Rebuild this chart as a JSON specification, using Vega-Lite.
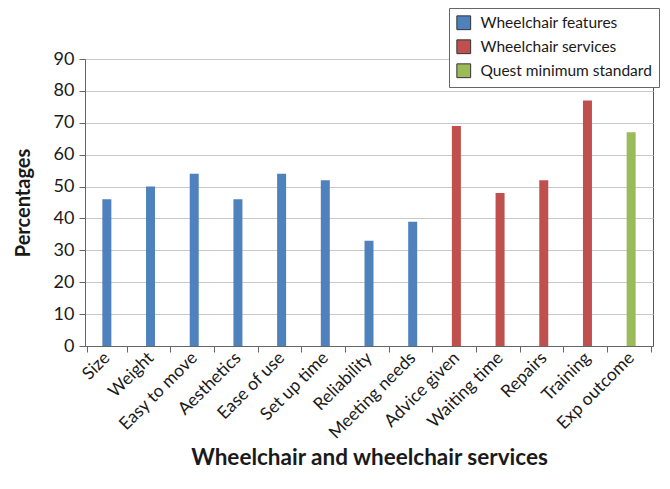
{
  "$schema": "https://vega.github.io/schema/vega-lite/v6.json",
  "width": 568,
  "height": 287,
  "autosize": "none",
  "padding": {"left": 85, "top": 59, "right": 17, "bottom": 143},
  "background": "white",
  "data": {
    "values": [
      {"item": "Size", "value": 46, "group": "Wheelchair features"},
      {"item": "Weight", "value": 50, "group": "Wheelchair features"},
      {"item": "Easy to move", "value": 54, "group": "Wheelchair features"},
      {"item": "Aesthetics", "value": 46, "group": "Wheelchair features"},
      {"item": "Ease of use", "value": 54, "group": "Wheelchair features"},
      {"item": "Set up time", "value": 52, "group": "Wheelchair features"},
      {"item": "Reliability", "value": 33, "group": "Wheelchair features"},
      {"item": "Meeting needs", "value": 39, "group": "Wheelchair features"},
      {"item": "Advice given", "value": 69, "group": "Wheelchair services"},
      {"item": "Waiting time", "value": 48, "group": "Wheelchair services"},
      {"item": "Repairs", "value": 52, "group": "Wheelchair services"},
      {"item": "Training", "value": 77, "group": "Wheelchair services"},
      {"item": "Exp outcome", "value": 67, "group": "Quest minimum standard"}
    ]
  },
  "mark": {"type": "bar", "size": 9},
  "encoding": {
    "x": {
      "field": "item",
      "type": "nominal",
      "sort": null,
      "title": "Wheelchair and wheelchair services",
      "axis": {
        "labelAngle": -45,
        "labelAlign": "right",
        "labelBaseline": "middle",
        "labelFont": "Lato",
        "labelFontSize": 17.5,
        "labelColor": "#1a1a1a",
        "labelPadding": 3,
        "labelLimit": 0,
        "tickBand": "extent",
        "tickSize": 6,
        "tickColor": "#666",
        "domainColor": "#666",
        "titleFont": "Lato",
        "titleFontSize": 22.5,
        "titleFontWeight": "bold",
        "titleColor": "#1a1a1a",
        "titleY": 100
      }
    },
    "y": {
      "field": "value",
      "type": "quantitative",
      "scale": {"domain": [0, 90]},
      "title": "Percentages",
      "axis": {
        "values": [0, 10, 20, 30, 40, 50, 60, 70, 80, 90],
        "grid": true,
        "gridColor": "#c8c8c8",
        "labelFont": "Lato",
        "labelFontSize": 18,
        "labelColor": "#1a1a1a",
        "labelPadding": 5,
        "tickSize": 6,
        "tickColor": "#666",
        "domainColor": "#666",
        "titleFont": "Lato",
        "titleFontSize": 20,
        "titleFontWeight": "bold",
        "titleColor": "#1a1a1a",
        "titleX": -52
      }
    },
    "color": {
      "field": "group",
      "type": "nominal",
      "scale": {
        "domain": ["Wheelchair features", "Wheelchair services", "Quest minimum standard"],
        "range": ["#4F81BD", "#C0504D", "#9BBB59"]
      },
      "legend": {
        "title": null,
        "orient": "none",
        "legendX": 364,
        "legendY": -51,
        "symbolType": "square",
        "symbolSize": 190,
        "symbolStrokeColor": "#333",
        "symbolStrokeWidth": 1,
        "labelFont": "Lato",
        "labelFontSize": 15.5,
        "labelLimit": 0,
        "labelOffset": 9,
        "labelColor": "#1a1a1a",
        "fillColor": "white",
        "strokeColor": "#666",
        "padding": 7,
        "rowPadding": 5
      }
    }
  },
  "config": {
    "view": {"stroke": "#555", "strokeWidth": 1}
  }
}
